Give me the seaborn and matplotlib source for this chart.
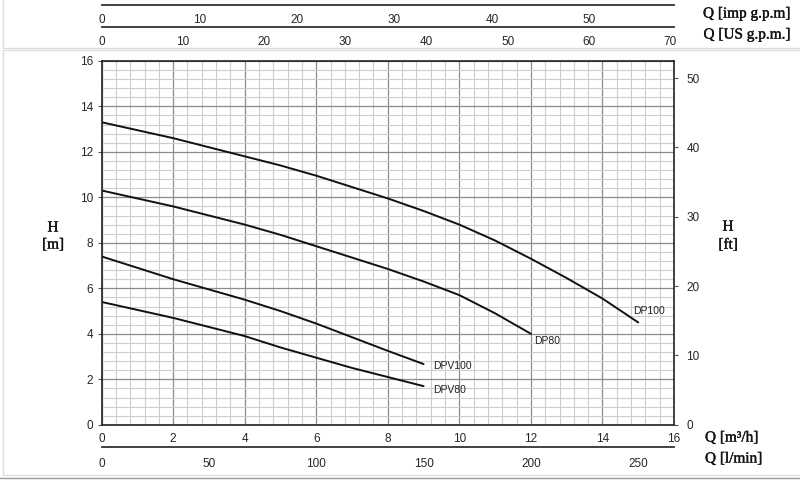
import numpy as np
import pandas as pd
import matplotlib
matplotlib.use('Agg')
import matplotlib.pyplot as plt
import matplotlib.patheffects as pe
import seaborn as sns
from matplotlib.ticker import MultipleLocator
from matplotlib.lines import Line2D

# pump curves, Q in m3/h, H in m
q_dp100 = [0, 1, 2, 3, 4, 5, 6, 7, 8, 9, 10, 11, 12, 13, 14, 15]
h_dp100 = [13.3, 12.95, 12.6, 12.2, 11.8, 11.4, 10.95, 10.45, 9.95, 9.4,
           8.8, 8.1, 7.3, 6.45, 5.55, 4.5]
q_dp80 = [0, 1, 2, 3, 4, 5, 6, 7, 8, 9, 10, 11, 12]
h_dp80 = [10.3, 9.95, 9.6, 9.2, 8.8, 8.35, 7.85, 7.35, 6.85, 6.3, 5.7, 4.9, 4.0]
q_dpv100 = [0, 1, 2, 3, 4, 5, 6, 7, 8, 9]
h_dpv100 = [7.4, 6.9, 6.4, 5.95, 5.5, 5.0, 4.45, 3.85, 3.25, 2.67]
q_dpv80 = [0, 1, 2, 3, 4, 5, 6, 7, 8, 9]
h_dpv80 = [5.4, 5.05, 4.7, 4.3, 3.9, 3.4, 2.95, 2.5, 2.1, 1.7]
names = ['DP100', 'DP80', 'DPV100', 'DPV80']

m3h_ticks = [0, 2, 4, 6, 8, 10, 12, 14, 16]
lmin_ticks = [0, 50, 100, 150, 200, 250]
imp_ticks = [0, 10, 20, 30, 40, 50]
us_ticks = [0, 10, 20, 30, 40, 50, 60, 70]
ft_ticks = [0, 10, 20, 30, 40, 50]

sns.set_style('white')
plt.rcParams['font.family'] = ['Liberation Sans', 'DejaVu Sans']

fig = plt.figure(figsize=(8, 4.8), dpi=100)
L, R, B, T = 101.6 / 800, 674 / 800, 1 - 424.8 / 480, 1 - 60.8 / 480
W = R - L
ax = fig.add_axes([L, B, W, T - B])

df = pd.concat([
    pd.DataFrame({'Q': q, 'H': h, 'pump': n})
    for q, h, n in zip([q_dp100, q_dp80, q_dpv100, q_dpv80],
                       [h_dp100, h_dp80, h_dpv100, h_dpv80], names)
])
for n in names:
    sns.lineplot(data=df[df.pump == n], x='Q', y='H', color='#111111',
                 lw=1.4, ax=ax, estimator=None, sort=False, legend=False)

# curve labels, offset from the last point of each curve
offsets = {'DP100': (-0.15, 0.5), 'DP80': (0.1, -0.3),
           'DPV100': (0.27, -0.1), 'DPV80': (0.27, -0.15)}
for n in names:
    sub = df[df.pump == n]
    dx, dy = offsets[n]
    ax.text(sub.Q.iloc[-1] + dx, sub.H.iloc[-1] + dy, n, fontsize=7.5,
            va='center', ha='left', color='#222222')

ax.set_xlim(0, 16)
ax.set_ylim(0, 16)
ax.set_xticks(m3h_ticks)
ax.set_yticks(range(0, 17, 2))
ax.xaxis.set_minor_locator(MultipleLocator(0.4))
ax.yaxis.set_minor_locator(MultipleLocator(0.4))
ax.grid(which='minor', color='#cdcdcd', lw=0.8)
ax.grid(which='major', color='#8c8c8c', lw=0.9)
ax.set_axisbelow(True)
ax.set_xlabel('')
ax.set_ylabel('')
for s in ax.spines.values():
    s.set_color('#222222')
    s.set_linewidth(1.2)
ax.tick_params(which='major', length=3, width=0.8, labelsize=8.5,
               color='#555555', pad=3)
ax.tick_params(which='minor', length=0)

ax2 = ax.twinx()
ax2.set_ylim(0, 16 * 3.28084)
ax2.set_yticks(ft_ticks)
ax2.tick_params(length=3, width=0.8, labelsize=8.5, color='#555555', pad=6)
for s in ax2.spines.values():
    s.set_visible(False)
ax2.grid(False)


def scale_axis(ypix, xmax, ticks, pad):
    a = fig.add_axes([L, 1 - ypix / 480, W, 1e-5])
    a.set_xlim(0, xmax)
    a.set_xticks(ticks)
    a.set_yticks([])
    for k in ['top', 'left', 'right']:
        a.spines[k].set_visible(False)
    a.spines['bottom'].set_color('#333333')
    a.spines['bottom'].set_linewidth(1.3)
    a.tick_params(axis='x', length=3, width=0.8, labelsize=8.5,
                  color='#333333', pad=pad)
    a.patch.set_visible(False)
    return a


lmin_max = 16 * 1000 / 60
scale_axis(5, lmin_max / 4.546, imp_ticks, 3.5)
scale_axis(26.7, lmin_max / 3.785, us_ticks, 3.5)
scale_axis(446.7, lmin_max, lmin_ticks, 5)

serif = ['Liberation Serif', 'DejaVu Serif']
lab = dict(fontsize=11, family=serif, color='#111111',
           path_effects=[pe.withStroke(linewidth=0.25, foreground='#111111')])
fig.text(53 / 800, 1 - 228 / 480, 'H', ha='center', va='center', **lab)
fig.text(53 / 800, 1 - 245 / 480, '[m]', ha='center', va='center', **lab)
fig.text(728 / 800, 1 - 227 / 480, 'H', ha='center', va='center', **lab)
fig.text(728 / 800, 1 - 245 / 480, '[ft]', ha='center', va='center', **lab)
fig.text(790 / 800, 1 - 14 / 480, 'Q [imp g.p.m]', ha='right', va='center', **lab)
fig.text(790 / 800, 1 - 35 / 480, 'Q [US g.p.m.]', ha='right', va='center', **lab)
fig.text(705 / 800, 1 - 438 / 480, 'Q [m³/h]', ha='left', va='center', **lab)
fig.text(705 / 800, 1 - 459 / 480, 'Q [l/min]', ha='left', va='center', **lab)

# light panel frames
for y in [48, 50, 475]:
    fig.add_artist(Line2D([3 / 800, 1], [1 - y / 480] * 2, color='#dddddd', lw=1))
fig.add_artist(Line2D([0, 1], [1 - 478 / 480] * 2, color='#999999', lw=1))
fig.add_artist(Line2D([3 / 800] * 2, [1 - 50 / 480, 1 - 475 / 480], color='#dddddd', lw=1))
fig.add_artist(Line2D([3 / 800] * 2, [1, 1 - 48 / 480], color='#dddddd', lw=1))

fig.savefig('out.png', dpi=100)
